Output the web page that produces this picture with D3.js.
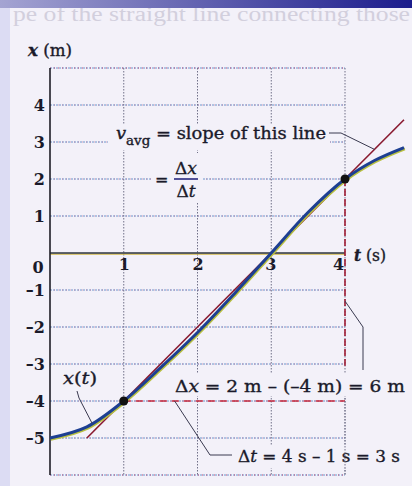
<!DOCTYPE html>
<html>
<head>
<meta charset="utf-8">
<script src="https://cdn.jsdelivr.net/npm/d3@7"></script>
<style>
  html, body { margin: 0; padding: 0; background: #f3f1f9; }
  svg { display: block; }
  text { font-family: "DejaVu Serif", "Liberation Serif", serif; fill: #1a1a2a; }
  text.lab { stroke: #1a1a2a; stroke-width: 0.35px; }
</style>
</head>
<body>
<div id="chart"></div>
<script>
// x(t) curve
const curveT = [0, 0.5, 1, 1.5, 2, 2.5, 3, 3.5, 4, 4.4, 4.8];
const curveX = [-5, -4.7, -4, -3.1, -2.15, -1.1, 0, 1.1, 2, 2.5, 2.85];

// the two marked points and the secant through them
const markT = [1, 4];
const markX = [-4, 2];
const secantT = [0.5, 4.8];
const secantX = [-5, 3.6];

// tick labels
const tTicks = [1, 2, 3, 4];
const xTicks = [4, 3, 2, 1, -1, -2, -3, -4, -5];
const gridX = [-6, -5, -4, -3, -2, -1, 1, 2, 3, 4, 5];

const width = 412, height = 486;
const bg = "#f3f1f9";

const svg = d3.select("#chart").append("svg")
  .attr("width", width)
  .attr("height", height);

// page background, left strip and top bar from the slide
const defs = svg.append("defs");
const grad = defs.append("linearGradient").attr("id", "topbar");
grad.append("stop").attr("offset", "0%").attr("stop-color", "#a4a4d2");
grad.append("stop").attr("offset", "100%").attr("stop-color", "#1c1c8c");

svg.append("rect").attr("width", width).attr("height", height).attr("fill", bg);
svg.append("rect").attr("width", 10).attr("height", height).attr("fill", "#dcdcf3");

// faint bleed-through text at the top of the page
svg.append("text")
  .attr("x", 13).attr("y", 21)
  .attr("font-size", 20)
  .attr("textLength", 397)
  .attr("lengthAdjust", "spacingAndGlyphs")
  .style("font-family", "'Liberation Serif', serif")
  .style("fill", "#d2cfdd")
  .text("pe of the straight line connecting those");

svg.append("rect").attr("width", width).attr("height", 8).attr("fill", "url(#topbar)");

const x = d3.scaleLinear().domain([0, 4]).range([50, 345]);
const y = d3.scaleLinear().domain([-6, 5]).range([475, 68]);

// grid
const grid = svg.append("g");
grid.selectAll("line.h")
  .data(gridX)
  .enter().append("line")
  .attr("x1", x(0)).attr("x2", x(4))
  .attr("y1", (d) => y(d)).attr("y2", (d) => y(d))
  .attr("stroke", "#6f96cc")
  .attr("stroke-width", 1)
  .attr("stroke-dasharray", "2,1");
grid.selectAll("line.hr")
  .data(gridX)
  .enter().append("line")
  .attr("x1", x(0)).attr("x2", x(4))
  .attr("y1", (d) => y(d)).attr("y2", (d) => y(d))
  .attr("stroke", "#c0406a")
  .attr("stroke-width", 1)
  .attr("stroke-opacity", (d) => (d === 5 || d === -6 ? 0.9 : 0.45))
  .attr("stroke-dasharray", "1,3");

grid.selectAll("line.v")
  .data(tTicks)
  .enter().append("line")
  .attr("x1", (d) => x(d)).attr("x2", (d) => x(d))
  .attr("y1", y(5)).attr("y2", y(-6))
  .attr("stroke", "#707088")
  .attr("stroke-width", 1)
  .attr("stroke-dasharray", "1.5,1.5");

// t axis (x = 0), slight yellow fringe under it
svg.append("line")
  .attr("x1", x(0)).attr("x2", x(4))
  .attr("y1", y(0) + 1.2).attr("y2", y(0) + 1.2)
  .attr("stroke", "#d2b84a").attr("stroke-width", 1.2);
svg.append("line")
  .attr("x1", x(0)).attr("x2", x(4))
  .attr("y1", y(0)).attr("y2", y(0))
  .attr("stroke", "#2c3440").attr("stroke-width", 1.4);

// x axis (left)
svg.append("line")
  .attr("x1", x(0)).attr("x2", x(0))
  .attr("y1", y(5)).attr("y2", y(-6))
  .attr("stroke", "#1e1e26").attr("stroke-width", 1.6);

// tick labels through d3 axes
const yAxis = svg.append("g")
  .attr("transform", `translate(${x(0)},0)`)
  .call(d3.axisLeft(y).tickValues(xTicks).tickSize(0).tickPadding(5)
    .tickFormat((d) => (d < 0 ? "\u2013" + Math.abs(d) : d)));
yAxis.select(".domain").remove();
yAxis.selectAll("text")
  .attr("font-size", 16).attr("font-weight", "bold")
  .style("font-family", "'DejaVu Serif', serif")
  .attr("fill", "#1a1a2a");

const tAxis = svg.append("g")
  .attr("transform", `translate(0,${y(0)})`)
  .call(d3.axisBottom(x).tickValues(tTicks).tickSize(0).tickPadding(6)
    .tickFormat(d3.format("d")));
tAxis.select(".domain").remove();
tAxis.selectAll("text")
  .attr("font-size", 16).attr("font-weight", "bold")
  .style("font-family", "'DejaVu Serif', serif")
  .attr("fill", "#1a1a2a")
  .attr("dx", (d) => (d === 4 ? -7 : d === 3 ? -1 : 0));

svg.append("text")
  .attr("x", x(0) - 12).attr("y", y(0) + 20)
  .attr("text-anchor", "middle")
  .attr("font-size", 16).attr("font-weight", "bold")
  .text("0");

// axis titles
const xTitle = svg.append("text").attr("class", "lab").attr("x", 28).attr("y", 56).attr("font-size", 16)
  .attr("textLength", 44).attr("lengthAdjust", "spacingAndGlyphs");
xTitle.append("tspan").attr("font-style", "italic").attr("font-weight", "bold").text("x");
xTitle.append("tspan").text(" (m)");

const tTitle = svg.append("text").attr("class", "lab").attr("x", 354).attr("y", y(0) + 8).attr("font-size", 16)
  .attr("textLength", 32).attr("lengthAdjust", "spacingAndGlyphs");
tTitle.append("tspan").attr("font-style", "italic").attr("font-weight", "bold").text("t");
tTitle.append("tspan").text(" (s)");

// dashed construction lines: delta t along x = -4, delta x along t = 4
svg.append("line")
  .attr("x1", x(markT[0])).attr("x2", x(markT[1]))
  .attr("y1", y(markX[0])).attr("y2", y(markX[0]))
  .attr("stroke", "#c8283c").attr("stroke-width", 1.6)
  .attr("stroke-dasharray", "7,5");
svg.append("line")
  .attr("x1", x(markT[1])).attr("x2", x(markT[1]))
  .attr("y1", y(markX[1])).attr("y2", y(-3.05))
  .attr("stroke", "#a01c34").attr("stroke-width", 1.6)
  .attr("stroke-dasharray", "7,3");

// secant line
const line = d3.line().x((d) => x(d[0])).y((d) => y(d[1]));
svg.append("path")
  .datum(d3.zip(secantT, secantX))
  .attr("fill", "none")
  .attr("stroke", "#8a1a30")
  .attr("stroke-width", 1.6)
  .attr("d", line);

// x(t) curve, with a faint yellow fringe
const curve = d3.line()
  .x((d) => x(d[0])).y((d) => y(d[1]))
  .curve(d3.curveCatmullRom);
svg.append("path")
  .datum(d3.zip(curveT, curveX))
  .attr("fill", "none")
  .attr("stroke", "#b8c040")
  .attr("stroke-width", 3)
  .attr("transform", "translate(0.8,1.2)")
  .attr("d", curve);
svg.append("path")
  .datum(d3.zip(curveT, curveX))
  .attr("fill", "none")
  .attr("stroke", "#1d3f92")
  .attr("stroke-width", 3)
  .attr("d", curve);

svg.selectAll("circle.mark")
  .data(d3.zip(markT, markX))
  .enter().append("circle")
  .attr("cx", (d) => x(d[0]))
  .attr("cy", (d) => y(d[1]))
  .attr("r", 4.5)
  .attr("fill", "#111");

const leader = (pts) => svg.append("path")
  .attr("d", d3.line()(pts))
  .attr("fill", "none")
  .attr("stroke", "#3a3a50")
  .attr("stroke-width", 1);

// v_avg label (background rect breaks the grid behind it)
svg.append("rect").attr("x", 108).attr("y", 124).attr("width", 222).attr("height", 26).attr("fill", bg);
const vLab = svg.append("text").attr("class", "lab").attr("x", 116).attr("y", 139).attr("font-size", 16)
  .attr("textLength", 210).attr("lengthAdjust", "spacingAndGlyphs");
vLab.append("tspan").attr("font-style", "italic").text("v");
vLab.append("tspan").attr("dy", 6).attr("font-size", 12).text("avg");
vLab.append("tspan").attr("dy", -6).text(" = slope of this line");
leader([[329, 133], [341, 133], [x(4.4), y(2.8)]]);

// = dx/dt
svg.append("rect").attr("x", 151).attr("y", 153).attr("width", 52).attr("height", 50).attr("fill", bg);
svg.append("text").attr("class", "lab").attr("x", 155).attr("y", y(2) + 6).attr("font-size", 16).text("=");
const num = svg.append("text").attr("class", "lab").attr("x", 186).attr("y", y(2) - 5).attr("text-anchor", "middle").attr("font-size", 17);
num.append("tspan").text("\u0394");
num.append("tspan").attr("font-style", "italic").text("x");
svg.append("line").attr("x1", 174).attr("x2", 198).attr("y1", y(2)).attr("y2", y(2))
  .attr("stroke", "#2a2a80").attr("stroke-width", 1.6);
const den = svg.append("text").attr("class", "lab").attr("x", 186).attr("y", y(2) + 18).attr("text-anchor", "middle").attr("font-size", 17);
den.append("tspan").text("\u0394");
den.append("tspan").attr("font-style", "italic").text("t");

// x(t) label
const xtLab = svg.append("text").attr("class", "lab").attr("x", 63).attr("y", 384).attr("font-size", 16)
  .attr("textLength", 34).attr("lengthAdjust", "spacingAndGlyphs");
xtLab.append("tspan").attr("font-style", "italic").text("x");
xtLab.append("tspan").text("(");
xtLab.append("tspan").attr("font-style", "italic").text("t");
xtLab.append("tspan").text(")");
leader([[77, 391], [79, 398], [x(0.57), y(-4.6)]]);

// delta x label
svg.append("rect").attr("x", 172).attr("y", 374).attr("width", 236).attr("height", 22).attr("fill", bg);
const dxLab = svg.append("text").attr("class", "lab").attr("x", 175).attr("y", 392).attr("font-size", 17)
  .attr("textLength", 230).attr("lengthAdjust", "spacingAndGlyphs");
dxLab.append("tspan").text("\u0394");
dxLab.append("tspan").attr("font-style", "italic").text("x");
dxLab.append("tspan").text(" = 2 m \u2013 (\u20134 m) = 6 m");
leader([[x(4), y(-1.3)], [363, 327], [363, 370]]);

// delta t label
svg.append("rect").attr("x", 234).attr("y", 446).attr("width", 170).attr("height", 22).attr("fill", bg);
const dtLab = svg.append("text").attr("class", "lab").attr("x", 238).attr("y", 462).attr("font-size", 17)
  .attr("textLength", 162).attr("lengthAdjust", "spacingAndGlyphs");
dtLab.append("tspan").text("\u0394");
dtLab.append("tspan").attr("font-style", "italic").text("t");
dtLab.append("tspan").text(" = 4 s \u2013 1 s = 3 s");
leader([[x(1.69), y(-4)], [210, 455], [232, 455]]);

// lower part of right border below the delta x label
svg.append("line")
  .attr("x1", x(4)).attr("x2", x(4))
  .attr("y1", 398).attr("y2", y(-6))
  .attr("stroke", "#707088").attr("stroke-width", 1)
  .attr("stroke-dasharray", "1.5,1.5");
</script>
</body>
</html>
